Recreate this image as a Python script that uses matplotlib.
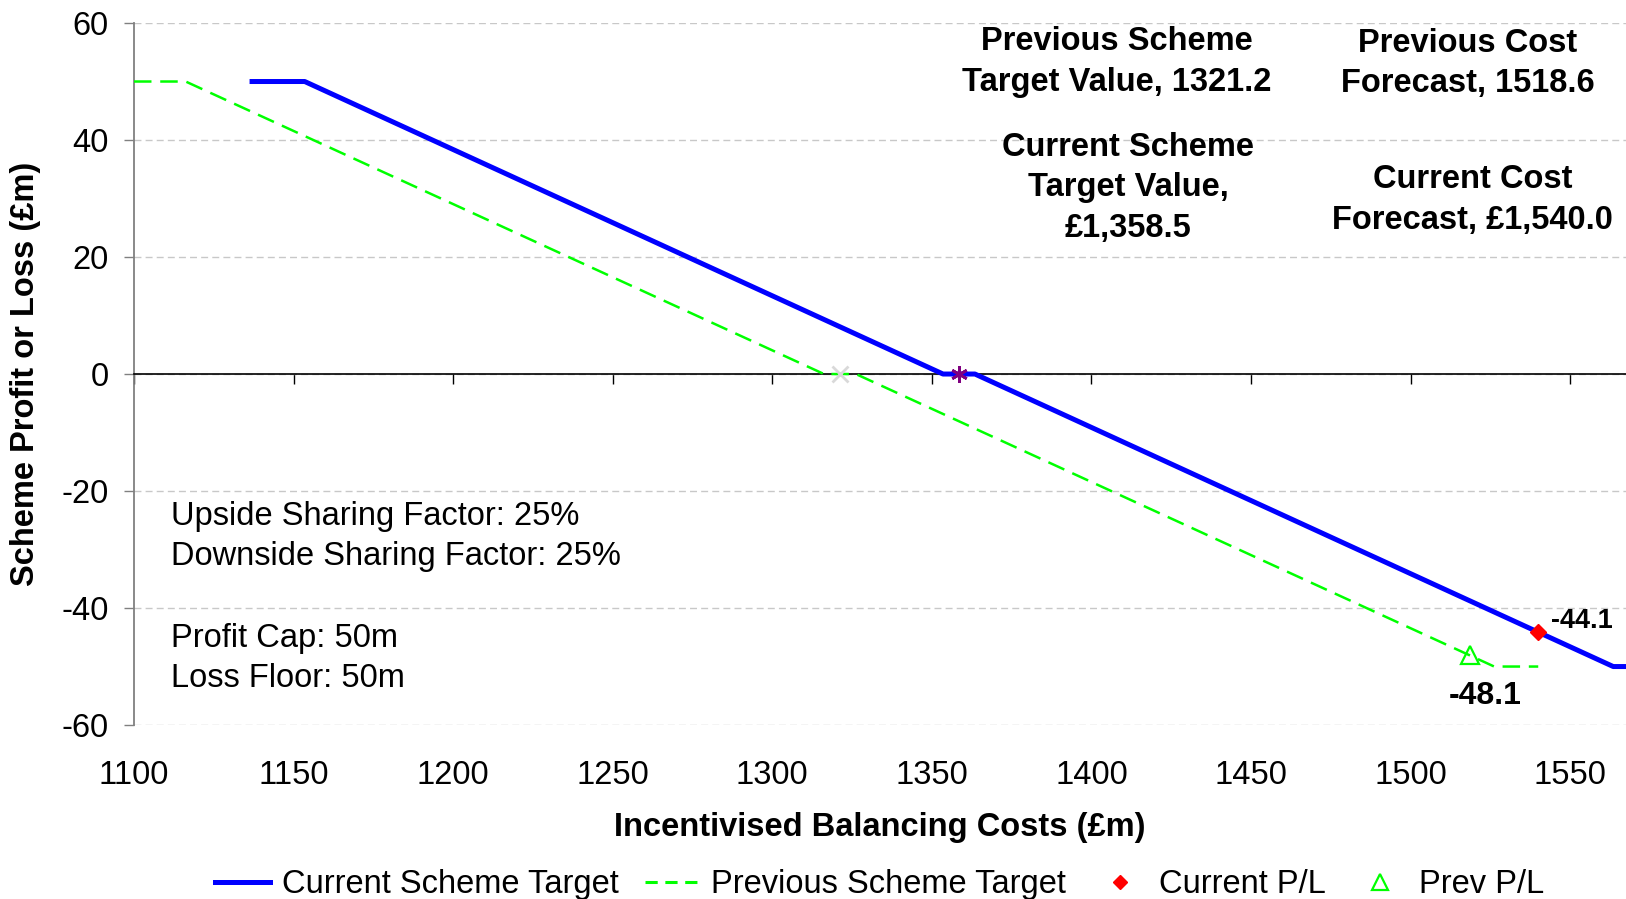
import matplotlib
matplotlib.use("Agg")
import matplotlib.pyplot as plt
from matplotlib.lines import Line2D

plt.rcParams['font.family'] = ['Liberation Sans', 'DejaVu Sans']
plt.rcParams['axes.unicode_minus'] = False

# scheme lines (cost in £m, profit/loss in £m)
cur_x = [1137, 1153.5, 1353.5, 1363.5, 1563.5, 1600]
cur_y = [50, 50, 0, 0, -50, -50]
prev_x = [1100, 1116.2, 1316.2, 1326.2, 1526.2, 1540]
prev_y = [50, 50, 0, 0, -50, -50]

cur_target = 1358.5
prev_target = 1321.2
cur_pl_x, cur_pl_y = 1540.0, -44.1
prev_pl_x, prev_pl_y = 1518.6, -48.1

xticks = [1100, 1150, 1200, 1250, 1300, 1350, 1400, 1450, 1500, 1550]
yticks = [-60, -40, -20, 0, 20, 40, 60]

fig = plt.figure(figsize=(16.26, 8.99), dpi=100)
ax = fig.add_axes([0.0824, 0.1935, 0.9176, 0.7809])

ax.plot(prev_x, prev_y, color='#00ff00', lw=1.8, ls=(0, (7, 3.5)), zorder=3)
ax.plot(cur_x, cur_y, color='#0000ff', lw=3.6, zorder=4)
ax.plot([prev_target], [0], marker='x', color='#d9d9d9', ms=11, mew=2, ls='none', zorder=5)
ax.plot([cur_target], [0], marker=(6, 2, 0), color='#800080', ms=12, mew=2, ls='none', zorder=5)
ax.plot([cur_pl_x], [cur_pl_y], marker='D', color='#ff0000', ms=8, ls='none', zorder=6)
ax.plot([prev_pl_x], [prev_pl_y], marker='^', mfc='none', mec='#00ff00', ms=13, mew=1.6,
        ls='none', zorder=6)

ax.annotate('%.1f' % cur_pl_y, (cur_pl_x, cur_pl_y), xytext=(9, 8), textcoords='offset points',
            ha='left', va='center', fontsize=19.5, fontweight='bold')
ax.annotate('%.1f' % prev_pl_y, (prev_pl_x, prev_pl_y), xytext=(11, -29), textcoords='offset points',
            ha='center', va='center', fontsize=23, fontweight='bold')

ax.set_xlim(1100, 1567.5)
ax.set_ylim(-60, 60)
ax.set_xticks(xticks)
ax.set_yticks(yticks)

ax.grid(axis='y', color='#c8c8c8', lw=1, ls=(0, (5, 3)))
ax.set_axisbelow(True)
for s in ['top', 'right']:
    ax.spines[s].set_visible(False)
ax.spines['left'].set_color('#808080')
ax.spines['left'].set_linewidth(1.3)
# x axis crosses at zero, labels stay at the bottom
ax.spines['bottom'].set_position(('data', 0))
ax.spines['bottom'].set_color('black')
ax.spines['bottom'].set_linewidth(1.2)
ax.spines['bottom'].set_zorder(2.6)
ax.tick_params(axis='y', length=7, width=1, color='#808080', pad=11, labelsize=23.5)
ax.tick_params(axis='x', length=7, width=1, color='black', pad=271, labelsize=23.5)

ax.set_xlabel('Incentivised Balancing Costs (£m)', fontsize=23.5, fontweight='bold', labelpad=15)
ax.set_ylabel('Scheme Profit or Loss (£m)', fontsize=23.5, fontweight='bold', labelpad=15)

ax.text(1408, 53.3, 'Previous Scheme\nTarget Value, 1321.2', ha='center', va='center',
        fontsize=23.5, fontweight='bold', linespacing=1.4)
ax.text(1411.5, 31.8, 'Current Scheme\nTarget Value,\n£1,358.5', ha='center', va='center',
        fontsize=23.5, fontweight='bold', linespacing=1.4)
ax.text(1518, 53.1, 'Previous Cost\nForecast, 1518.6', ha='center', va='center',
        fontsize=23.5, fontweight='bold', linespacing=1.4)
ax.text(1519.5, 29.7, 'Current Cost\nForecast, £1,540.0', ha='center', va='center',
        fontsize=23.5, fontweight='bold', linespacing=1.4)

ax.text(1111.5, -27.8, 'Upside Sharing Factor: 25%\nDownside Sharing Factor: 25%', ha='left',
        va='center', fontsize=23.5, linespacing=1.4)
ax.text(1111.5, -48.6, 'Profit Cap: 50m\nLoss Floor: 50m', ha='left', va='center',
        fontsize=23.5, linespacing=1.4)

handles = [
    Line2D([], [], color='#0000ff', lw=3.6),
    Line2D([], [], color='#00ff00', lw=2.2, ls=(0, (4, 2.5))),
    Line2D([], [], color='#ff0000', marker='D', ms=7, ls='none'),
    Line2D([], [], mfc='none', mec='#00ff00', marker='^', ms=11, mew=1.6, ls='none'),
]
labels = ['Current Scheme Target', 'Previous Scheme Target', 'Current P/L', 'Prev P/L']
fig.legend(handles, labels, loc='center', bbox_to_anchor=(0.541, 0.016), ncol=4, frameon=False,
           fontsize=23.5, handlelength=1.7, handletextpad=0.35, columnspacing=0.8)

fig.savefig('out.png', dpi=100)
